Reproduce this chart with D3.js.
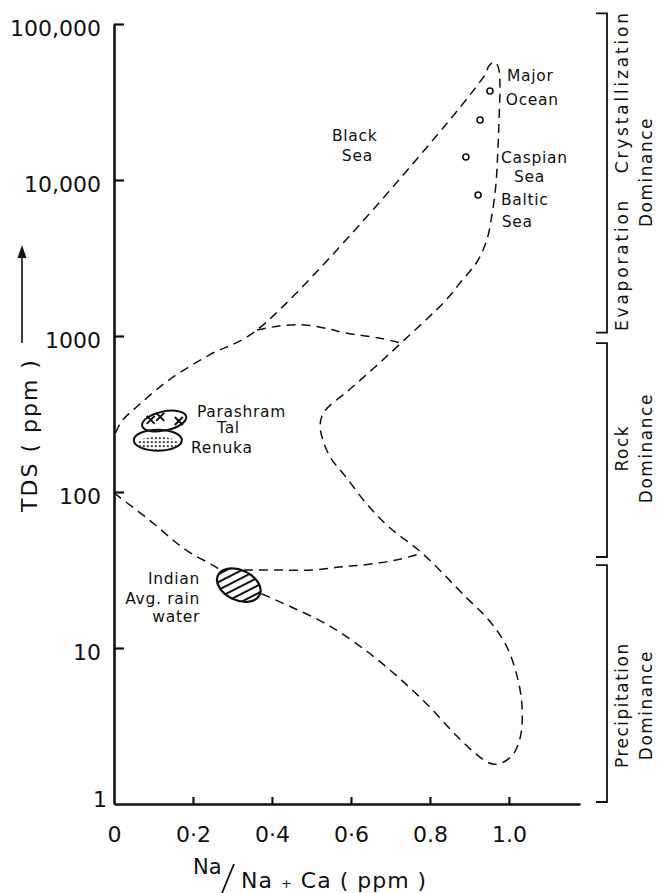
<!DOCTYPE html>
<html>
<head>
<meta charset="utf-8">
<script src="https://cdn.jsdelivr.net/npm/d3@7"></script>
<style>
  body { margin: 0; background: #fff; }
  svg text { font-family: "DejaVu Sans", sans-serif; fill: #111; }
</style>
</head>
<body>
<svg id="chart" width="659" height="893"></svg>
<script>
// axis ticks
const xTickValues = [0, 0.2, 0.4, 0.6, 0.8, 1.0];
const xTickLabels = ['0', '0·2', '0·4', '0·6', '0.8', '1.0'];
const yTickValues = [1, 10, 100, 1000, 10000, 100000];
const yTickLabels = ['1', '10', '100', '1000', '10,000', '100,000'];

// outer boundary (Na/Na+Ca , TDS ppm), from the axis at 100 round to the axis at ~225
const boundaryRatio = [0, 0.089, 0.182, 0.261, 0.316, 0.362, 0.443, 0.519, 0.570, 0.646, 0.722, 0.797, 0.873, 0.937, 0.962, 0.987, 1.013, 1.030, 1.033, 1.020, 0.992, 0.949, 0.891, 0.780, 0.696, 0.638, 0.587, 0.549, 0.529, 0.522, 0.532, 0.595, 0.658, 0.727, 0.841, 0.878, 0.919, 0.944, 0.957, 0.967, 0.972, 0.975, 0.977, 0.972, 0.962, 0.949, 0.939, 0.362, 0.241, 0.139, 0.063, 0.018, 0];
const boundaryTDS = [98.6, 66.2, 42.5, 32.6, 25.3, 22.9, 18.6, 15.1, 12.7, 9.29, 6.42, 4.25, 2.65, 1.91, 1.80, 1.86, 2.12, 2.77, 4.3, 6.7, 10.5, 15.1, 21.2, 40.6, 59.7, 85, 125, 165, 215, 269, 326, 451, 623, 902, 1702, 2219, 2981, 4125, 5970, 9290, 15560, 24250, 43750, 53800, 57050, 53800, 47100, 1092, 755, 522, 361, 281, 225];

// dividing curves
const upperRatio = [0.362, 0.418, 0.481, 0.544, 0.587, 0.671, 0.727];
const upperTDS = [1092, 1159, 1177, 1109, 1045, 971, 902];
const lowerRatio = [0.329, 0.418, 0.501, 0.570, 0.628, 0.714, 0.780];
const lowerTDS = [31.6, 31.6, 31.6, 33.0, 34.0, 36.6, 40.6];

// sea water points
const seaRatio = [0.952, 0.927, 0.891, 0.922];
const seaTDS = [37200, 24250, 14030, 8010];

// sample fields
const rainCentre = [0.316, 25.3];
const parashramCentre = [0.127, 285];
const renukaCentre = [0.111, 215];
const parashramRatio = [0.093, 0.117, 0.164];
const parashramTDS = [290, 303, 285];

// labels
const noteText = ['Black', 'Sea', 'Major', 'Ocean', 'Caspian', 'Sea', 'Baltic', 'Sea', 'Parashram', 'Tal', 'Renuka'];
const noteRatio = [0.552, 0.577, 0.995, 0.992, 0.980, 1.013, 0.980, 0.982, 0.210, 0.261, 0.195];
const noteTDS = [19400, 14460, 47100, 33050, 14040, 10600, 7550, 5460, 330, 258, 192];
const rainText = ['Indian', 'Avg. rain', 'water'];
const rainTDS = [28.1, 20.9, 16.0];

// dominance zones on the right
const zoneTop = [117000, 900, 34];
const zoneBottom = [1050, 38.3, 1.03];
const zoneMid = [11250, 191, 4.3];
const zoneLines = [['Evaporation   Crystallization', 'Dominance'], ['Rock', 'Dominance'], ['Precipitation', 'Dominance']];

const svg = d3.select('#chart');

const x = d3.scaleLinear().domain([0, 1.18]).range([114, 580]);
const y = d3.scaleLog().domain([1, 100000]).range([804, 24]);

const ink = '#111';

// axes
const xAxis = svg.append('g')
  .attr('transform', `translate(0,${y(1)})`)
  .call(d3.axisBottom(x)
    .tickValues(xTickValues)
    .tickFormat((d, i) => xTickLabels[i])
    .tickSizeInner(-7)
    .tickSizeOuter(0)
    .tickPadding(22));

const yAxis = svg.append('g')
  .attr('transform', `translate(${x(0)},0)`)
  .call(d3.axisLeft(y)
    .tickValues(yTickValues)
    .tickFormat((d, i) => yTickLabels[i])
    .tickSizeInner(-10)
    .tickSizeOuter(0)
    .tickPadding(13));

[xAxis, yAxis].forEach(g => {
  g.attr('font-size', null).attr('font-family', null);
  g.select('.domain').attr('stroke', ink).attr('stroke-width', 2.6);
  g.selectAll('.tick line').attr('stroke', ink).attr('stroke-width', 2.2);
  g.selectAll('.tick text').attr('font-size', 22).attr('fill', ink);
});
xAxis.selectAll('.tick').filter(d => d === 0).select('line').remove();
yAxis.selectAll('.tick text').attr('dy', '0.52em');
yAxis.selectAll('.tick').filter(d => d === 1).select('text').attr('x', -7).attr('dy', '0.1em');
yAxis.selectAll('.tick').filter(d => d === 1).select('line').remove();

// axis titles
svg.append('text')
  .attr('transform', 'translate(37,435) rotate(-90)')
  .attr('text-anchor', 'middle')
  .attr('font-size', 22)
  .attr('letter-spacing', 2)
  .text('TDS ( ppm )');

svg.append('line')
  .attr('x1', 22).attr('y1', 343).attr('x2', 22).attr('y2', 252)
  .attr('stroke', ink).attr('stroke-width', 1.6);
svg.append('path')
  .attr('d', 'M22,245L17.5,258L26.5,258Z')
  .attr('fill', ink);

svg.append('text')
  .attr('x', 193).attr('y', 874)
  .attr('font-size', 21)
  .text('Na');
svg.append('line')
  .attr('x1', 234).attr('y1', 864).attr('x2', 222).attr('y2', 893)
  .attr('stroke', ink).attr('stroke-width', 1.8);
const xt = svg.append('text')
  .attr('x', 241).attr('y', 888)
  .attr('font-size', 22)
  .attr('letter-spacing', 1);
xt.append('tspan').text('Na ');
xt.append('tspan').attr('font-size', 13).text('+');
xt.append('tspan').text(' Ca  ( ppm )');

// dashed boundaries
const line = d3.line()
  .x(d => x(d[0]))
  .y(d => y(d[1]))
  .curve(d3.curveCatmullRom.alpha(0.5));

const curves = [
  d3.zip(boundaryRatio, boundaryTDS),
  d3.zip(upperRatio, upperTDS),
  d3.zip(lowerRatio, lowerTDS)
];

svg.append('g')
  .selectAll('path')
  .data(curves)
  .join('path')
  .attr('d', line)
  .attr('fill', 'none')
  .attr('stroke', ink)
  .attr('stroke-width', 1.5)
  .attr('stroke-dasharray', '9,6');

// sea water points
svg.append('g')
  .selectAll('circle')
  .data(d3.zip(seaRatio, seaTDS))
  .join('circle')
  .attr('cx', d => x(d[0]))
  .attr('cy', d => y(d[1]))
  .attr('r', 3)
  .attr('fill', '#fff')
  .attr('stroke', ink)
  .attr('stroke-width', 1.6);

// patterns
const defs = svg.append('defs');
defs.append('pattern')
  .attr('id', 'hatch')
  .attr('patternUnits', 'userSpaceOnUse')
  .attr('width', 7).attr('height', 7)
  .attr('patternTransform', 'rotate(38)')
  .append('line')
  .attr('x1', 2).attr('y1', 0).attr('x2', 2).attr('y2', 7)
  .attr('stroke', ink).attr('stroke-width', 2);
defs.append('pattern')
  .attr('id', 'dots')
  .attr('patternUnits', 'userSpaceOnUse')
  .attr('width', 4).attr('height', 4)
  .append('circle')
  .attr('cx', 2).attr('cy', 2).attr('r', 1.1)
  .attr('fill', ink);

// Indian average rain water
const rain = svg.append('g')
  .attr('transform', `translate(${x(rainCentre[0])},${y(rainCentre[1])}) rotate(25)`);
rain.append('ellipse').attr('rx', 23).attr('ry', 15).attr('fill', '#fff');
rain.append('ellipse').attr('rx', 23).attr('ry', 15)
  .attr('fill', 'url(#hatch)').attr('stroke', ink).attr('stroke-width', 2.2);

// Renuka
const ren = svg.append('g')
  .attr('transform', `translate(${x(renukaCentre[0])},${y(renukaCentre[1])})`);
ren.append('ellipse').attr('rx', 24).attr('ry', 10.5).attr('fill', '#fff');
ren.append('ellipse').attr('cy', 3).attr('rx', 20).attr('ry', 6.5).attr('fill', 'url(#dots)');
ren.append('ellipse').attr('rx', 24).attr('ry', 10.5)
  .attr('fill', 'none').attr('stroke', ink).attr('stroke-width', 2);

// Parashram Tal
svg.append('ellipse')
  .attr('transform', `translate(${x(parashramCentre[0])},${y(parashramCentre[1])}) rotate(-12)`)
  .attr('rx', 22.5).attr('ry', 9.5)
  .attr('fill', 'none').attr('stroke', ink).attr('stroke-width', 2);

svg.append('g')
  .selectAll('path')
  .data(d3.zip(parashramRatio, parashramTDS))
  .join('path')
  .attr('transform', d => `translate(${x(d[0])},${y(d[1])})`)
  .attr('d', 'M-4,-4L4,4M4,-4L-4,4')
  .attr('stroke', ink)
  .attr('stroke-width', 2);

// labels
svg.append('g')
  .selectAll('text')
  .data(d3.zip(noteText, noteRatio, noteTDS))
  .join('text')
  .attr('x', d => x(d[1]))
  .attr('y', d => y(d[2]))
  .attr('dy', '0.36em')
  .attr('font-size', 15.5)
  .attr('letter-spacing', 0.7)
  .text(d => d[0]);

svg.append('g')
  .selectAll('text')
  .data(d3.zip(rainText, rainTDS))
  .join('text')
  .attr('x', 200)
  .attr('y', d => y(d[1]))
  .attr('dy', '0.36em')
  .attr('text-anchor', 'end')
  .attr('font-size', 15.5)
  .attr('letter-spacing', 0.7)
  .text(d => d[0]);

// dominance brackets
const bx = 607;
const zones = svg.append('g');
zoneTop.forEach((top, i) => {
  const y0 = y(top), y1 = y(zoneBottom[i]);
  zones.append('path')
    .attr('d', `M${bx - 11},${y0}H${bx}V${y1}H${bx - 11}`)
    .attr('fill', 'none')
    .attr('stroke', ink)
    .attr('stroke-width', 1.8);
  zoneLines[i].forEach((t, j) => {
    const txt = zones.append('text')
      .attr('transform', `translate(${j ? 652 : 628},${y(zoneMid[i])}) rotate(-90)`)
      .attr('text-anchor', 'middle')
      .attr('font-size', 17)
      .attr('letter-spacing', 1.5)
      .style('white-space', 'pre')
      .text(t);
    if (i === 0 && j === 0) txt.attr('textLength', 318).attr('lengthAdjust', 'spacing').attr('letter-spacing', null);
  });
});
</script>
</body>
</html>
